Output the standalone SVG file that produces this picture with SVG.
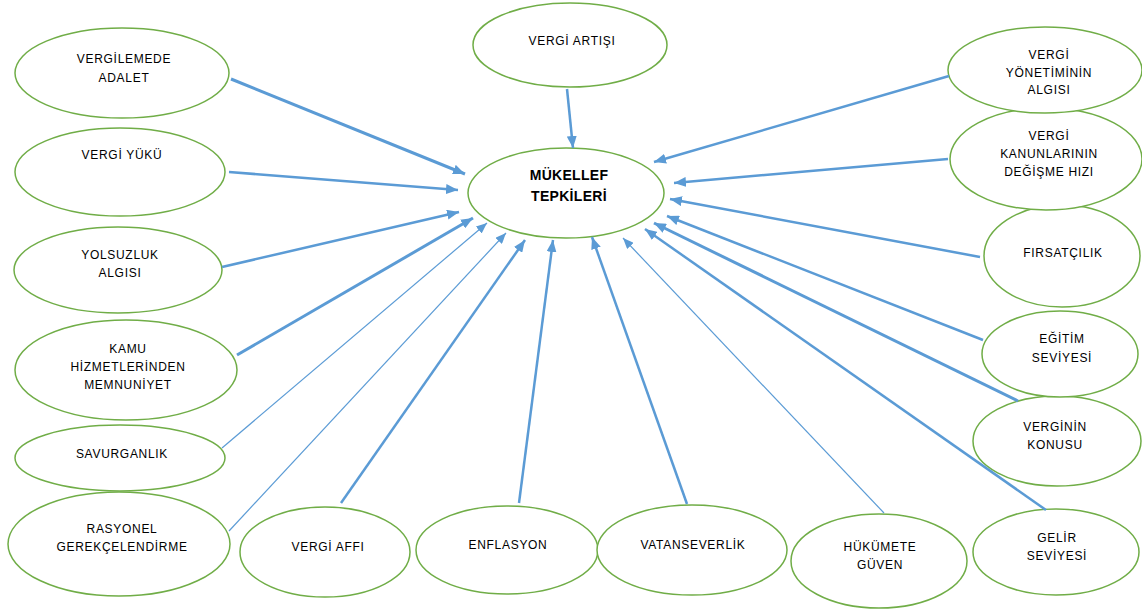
<svg xmlns="http://www.w3.org/2000/svg" width="1142" height="610" viewBox="0 0 1142 610">
<style>
.n ellipse{fill:#fff;stroke:#70ad47;stroke-width:1.5}
.n text{font-family:"Liberation Sans",Arial,sans-serif;font-size:12px;letter-spacing:0.7px;fill:#000;text-anchor:middle}
.n text.b{font-size:14px;font-weight:bold;letter-spacing:0.3px}
#connectors line{stroke:#5b9bd5;stroke-width:2.5;fill:none;marker-end:url(#ah)}
#connectors line.k{stroke-width:3}
#connectors line.t{stroke-width:1.2;marker-end:url(#ahs)}
</style>
<defs>
<marker id="ah" markerUnits="userSpaceOnUse" viewBox="0 0 12 10" refX="12" refY="5" markerWidth="12" markerHeight="10" orient="auto">
<path d="M0,0 L12,5 L0,10 z" fill="#5b9bd5"/>
</marker>
<marker id="ahs" markerUnits="userSpaceOnUse" viewBox="0 0 12 10" refX="12" refY="5" markerWidth="11" markerHeight="9" orient="auto">
<path d="M0,0 L12,5 L0,10 z" fill="#5b9bd5"/>
</marker>
</defs>
<rect width="1142" height="610" fill="#fff"/>
<g id="nodes">
<g id="vergi-artisi" class="n"><ellipse cx="570" cy="45" rx="97" ry="42"/><text x="572" y="45">VERGİ ARTIŞI</text></g>
<g id="vergilemede-adalet" class="n"><ellipse cx="122" cy="73" rx="107" ry="45"/><text x="124" y="63">VERGİLEMEDE</text><text x="124" y="82">ADALET</text></g>
<g id="vergi-yuku" class="n"><ellipse cx="120" cy="172" rx="105" ry="44"/><text x="122" y="159">VERGİ YÜKÜ</text></g>
<g id="yolsuzluk" class="n"><ellipse cx="118" cy="270" rx="104" ry="43"/><text x="120" y="259">YOLSUZLUK</text><text x="120" y="277">ALGISI</text></g>
<g id="kamu" class="n"><ellipse cx="126" cy="370" rx="111" ry="50"/><text x="128" y="353">KAMU</text><text x="128" y="371">HİZMETLERİNDEN</text><text x="128" y="389">MEMNUNİYET</text></g>
<g id="savurganlik" class="n"><ellipse cx="120" cy="458" rx="105" ry="33"/><text x="122" y="458">SAVURGANLIK</text></g>
<g id="rasyonel" class="n"><ellipse cx="119" cy="544" rx="111" ry="52"/><text x="122" y="533">RASYONEL</text><text x="122" y="551">GEREKÇELENDİRME</text></g>
<g id="vergi-affi" class="n"><ellipse cx="325" cy="552" rx="85" ry="45"/><text x="328" y="551">VERGİ AFFI</text></g>
<g id="enflasyon" class="n"><ellipse cx="507" cy="550" rx="91" ry="44"/><text x="508" y="549">ENFLASYON</text></g>
<g id="vatanseverlik" class="n"><ellipse cx="692" cy="550" rx="95" ry="45"/><text x="693" y="549">VATANSEVERLİK</text></g>
<g id="hukumete-guven" class="n"><ellipse cx="879" cy="561" rx="88" ry="47"/><text x="880" y="551">HÜKÜMETE</text><text x="880" y="569">GÜVEN</text></g>
<g id="gelir-seviyesi" class="n"><ellipse cx="1056" cy="552" rx="83" ry="43"/><text x="1057" y="542">GELİR</text><text x="1057" y="560">SEVİYESİ</text></g>
<g id="verginin-konusu" class="n"><ellipse cx="1057" cy="441" rx="84" ry="45"/><text x="1055" y="431">VERGİNİN</text><text x="1055" y="449">KONUSU</text></g>
<g id="egitim-seviyesi" class="n"><ellipse cx="1060" cy="354" rx="78" ry="43"/><text x="1062" y="343">EĞİTİM</text><text x="1062" y="362">SEVİYESİ</text></g>
<g id="firsatcilik" class="n"><ellipse cx="1062" cy="256" rx="78" ry="51"/><text x="1063" y="257">FIRSATÇILIK</text></g>
<g id="kanunlar" class="n"><ellipse cx="1046" cy="159" rx="96" ry="51"/><text x="1049" y="140">VERGİ</text><text x="1049" y="158">KANUNLARININ</text><text x="1049" y="176">DEĞİŞME HIZI</text></g>
<g id="yonetim" class="n"><ellipse cx="1045" cy="70" rx="97" ry="43"/><text x="1049" y="59">VERGİ</text><text x="1049" y="77">YÖNETİMİNİN</text><text x="1049" y="94">ALGISI</text></g>
<g id="mukellef" class="n"><ellipse cx="566" cy="193" rx="98" ry="45"/><text class="b" x="569" y="180">MÜKELLEF</text><text class="b" x="569" y="201">TEPKİLERİ</text></g>
</g>
<g id="connectors">
<line x1="567" y1="89" x2="573" y2="148"/>
<line class="k" x1="231" y1="79" x2="465" y2="174"/>
<line x1="229" y1="172" x2="458" y2="190"/>
<line x1="222" y1="267" x2="459" y2="212"/>
<line class="k" x1="237" y1="355" x2="473" y2="218"/>
<line class="t" x1="222" y1="448" x2="487" y2="223"/>
<line class="t" x1="229" y1="531" x2="506" y2="233"/>
<line x1="341" y1="503" x2="525" y2="240"/>
<line x1="519" y1="503" x2="553" y2="240"/>
<line x1="687" y1="504" x2="592" y2="237"/>
<line class="t" x1="884" y1="513" x2="623" y2="238"/>
<line x1="1046" y1="510" x2="645" y2="229"/>
<line class="k" x1="1018" y1="401" x2="654" y2="223"/>
<line x1="983" y1="340" x2="667" y2="216"/>
<line x1="980" y1="257" x2="670" y2="199"/>
<line x1="948" y1="159" x2="674" y2="183"/>
<line x1="949" y1="76" x2="654" y2="162"/>
</g>
</svg>
